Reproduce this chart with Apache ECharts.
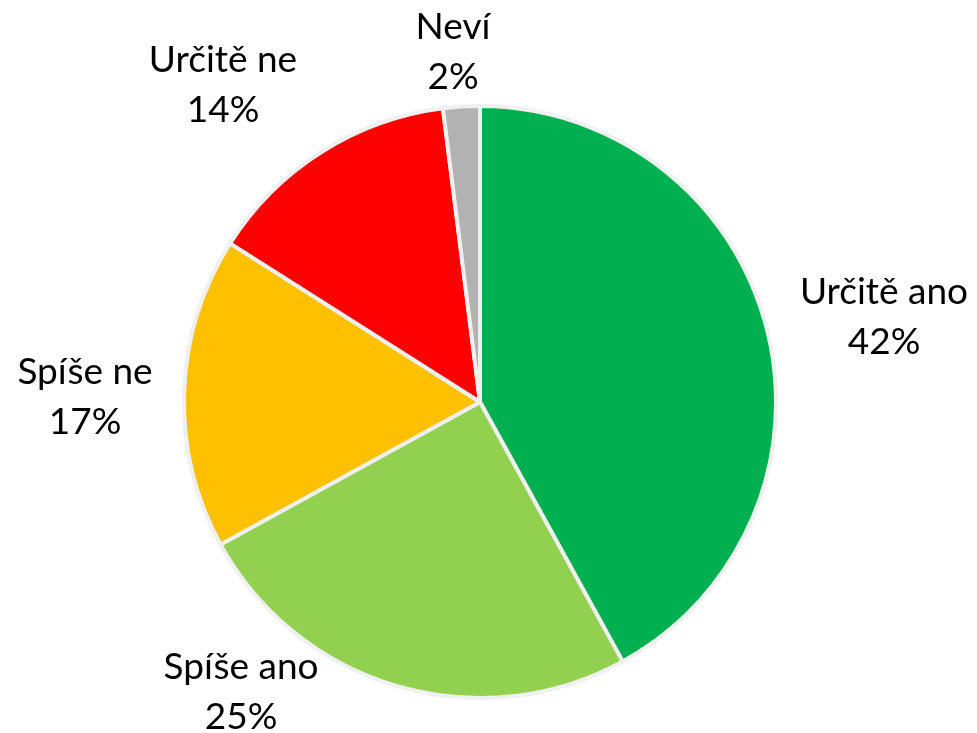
<!DOCTYPE html>
<html>
<head>
<meta charset="utf-8">
<script src="https://cdn.jsdelivr.net/npm/echarts@6/dist/echarts.min.js"></script>
<style>
  html, body { margin: 0; padding: 0; background: #fff; }
  #chart { width: 977px; height: 733px; }
</style>
</head>
<body>
<div id="chart"></div>
<script>
// data
const categories = ['Určitě ano', 'Spíše ano', 'Spíše ne', 'Určitě ne', 'Neví'];
const values = [42, 25, 17, 14, 2];
const colors = ['#00B050', '#92D050', '#FFC000', '#FF0000', '#B2B2B2'];

// label block centres (px), Excel-style placement
const labelPos = [[884, 317], [241, 692], [85, 397], [223, 85], [453, 52]];

const chart = echarts.init(document.getElementById('chart'));

chart.setOption({
  animation: false,
  series: [
    {
      type: 'pie',
      center: [480, 402],
      radius: 296,
      startAngle: 90,
      clockwise: true,
      itemStyle: { borderColor: '#F0F0F0', borderWidth: 4 },
      label: {
        show: true,
        position: 'outside',
        overflow: 'none',
        edgeDistance: 0,
        formatter: (p) => `{a|${p.name}}\n{a|${p.value}%}`,
        rich: {
          a: {
            fontFamily: 'Lato',
            fontSize: 37,
            lineHeight: 50,
            color: '#000',
            align: 'center'
          }
        }
      },
      labelLine: { show: false, length: 5, length2: 0 },
      labelLayout: (params) => ({
        x: labelPos[params.dataIndex][0],
        y: labelPos[params.dataIndex][1],
        align: 'center',
        verticalAlign: 'middle'
      }),
      emphasis: { disabled: true },
      data: categories.map((c, i) => ({
        name: c,
        value: values[i],
        itemStyle: { color: colors[i] }
      }))
    }
  ]
});
</script>
</body>
</html>
